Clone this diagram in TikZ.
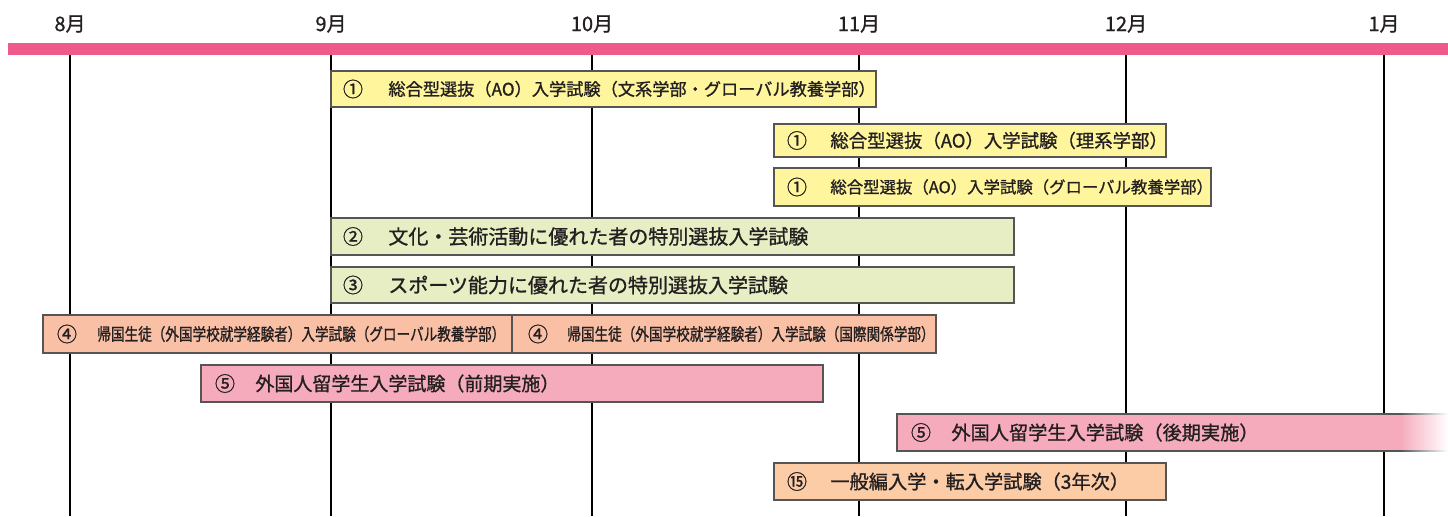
\documentclass[tikz,border=0pt]{standalone}
\usepackage{fontspec}
\setmainfont[FakeBold=1.0]{Noto Sans CJK JP}
\newfontfamily\jpnarrow[FakeBold=1.0, FakeStretch=0.8]{Noto Sans CJK JP}
\usetikzlibrary{positioning}

\definecolor{barpink}{HTML}{EE5A8A}
\definecolor{aoyellow}{HTML}{FFF59D}
\definecolor{tokugreen}{HTML}{E7EEC4}
\definecolor{kikokusalmon}{HTML}{F9C0A6}
\definecolor{ryugakupink}{HTML}{F5ABBC}
\definecolor{hennyupeach}{HTML}{FCCCA6}
\definecolor{edgegray}{HTML}{555555}
\definecolor{inkblack}{HTML}{231F20}

\newcommand\fsz[1]{\fontsize{#1}{#1}\selectfont}

\tikzset{
  exam/.style = {draw=edgegray, line width=0.6pt},
  numlbl/.style = {inner sep=0pt, text=inkblack, font=\fsz{10}},
  examlbl/.style = {inner sep=0pt, anchor=west, text=inkblack},
  monthlbl/.style = {inner sep=0pt, text=inkblack, font=\fsz{10}}
}

\begin{document}
\begin{tikzpicture}[x=0.5pt, y=-0.5pt]
    \useasboundingbox (0,0) rectangle (1448,516);

    % Bar and month lines
    \fill[barpink] (8,43) rectangle (1448,55);
    \foreach \x/\m in {70/8, 331/9, 592/10, 859/11, 1126/12, 1384/1} {
        \node[monthlbl] (m\m) at (\x,24) {\m 月};
        \draw[line width=1pt] (\x,55) -- (\x,516);
    }

    % (1) AO
    \draw[exam, fill=aoyellow] (331,71) rectangle (876,107);
    \node[numlbl] (n1) at (353,89) {①};
    \node[examlbl, font=\fsz{8.6}] (t1) at (388,89) {総合型選抜（AO）入学試験（文系学部・グローバル教養学部）};

    \draw[exam, fill=aoyellow] (774,124) rectangle (1166,157);
    \node[numlbl] (n2) at (797,140.5) {①};
    \node[examlbl, font=\fsz{9.2}] (t2) at (830,140.5) {総合型選抜（AO）入学試験（理系学部）};

    \draw[exam, fill=aoyellow] (774,168) rectangle (1211,206);
    \node[numlbl] (n3) at (797,187) {①};
    \node[examlbl, font=\fsz{8.2}] (t3) at (830,187) {総合型選抜（AO）入学試験（グローバル教養学部）};

    % (2)(3) tokubetsu
    \draw[exam, fill=tokugreen] (331,218) rectangle (1014,255);
    \node[numlbl] (n4) at (353,236.5) {②};
    \node[examlbl, font=\fsz{10}] (t4) at (388,236.5) {文化・芸術活動に優れた者の特別選抜入学試験};

    \draw[exam, fill=tokugreen] (331,267) rectangle (1014,303);
    \node[numlbl] (n5) at (353,285) {③};
    \node[examlbl, font=\fsz{10}] (t5) at (388,285) {スポーツ能力に優れた者の特別選抜入学試験};

    % (4) kikoku
    \draw[exam, fill=kikokusalmon] (43,315) rectangle (512,353);
    \node[numlbl] (n6) at (67,334) {④};
    \node[examlbl, font=\jpnarrow\fsz{8.5}] (t6) at (97,334) {帰国生徒（外国学校就学経験者）入学試験（グローバル教養学部）};

    \draw[exam, fill=kikokusalmon] (512,315) rectangle (936,353);
    \node[numlbl] (n7) at (538,334) {④};
    \node[examlbl, font=\jpnarrow\fsz{8.5}] (t7) at (567,334) {帰国生徒（外国学校就学経験者）入学試験（国際関係学部）};

    % (5) ryugaku
    \draw[exam, fill=ryugakupink] (201,365) rectangle (823,402);
    \node[numlbl] (n8) at (225,383.5) {⑤};
    \node[examlbl, font=\fsz{9.5}] (t8) at (255,383.5) {外国人留学生入学試験（前期実施）};

    \fill[ryugakupink] (897,414) rectangle (1400,451);
    \shade[left color=ryugakupink, right color=white] (1400,414) rectangle (1448,451);
    \draw[edgegray, line width=0.6pt] (1400,414) -- (897,414) -- (897,451) -- (1400,451);
    \shade[left color=edgegray, right color=white] (1400,413.4) rectangle (1448,414.6);
    \shade[left color=edgegray, right color=white] (1400,450.4) rectangle (1448,451.6);
    \node[numlbl] (n9) at (921,432.5) {⑤};
    \node[examlbl, font=\fsz{9.6}] (t9) at (951,432.5) {外国人留学生入学試験（後期実施）};

    % (15) hennyu
    \draw[exam, fill=hennyupeach] (774,463) rectangle (1166,500);
    \node[numlbl] (n10) at (797,481.5) {⑮};
    \node[examlbl, font=\fsz{9.6}] (t10) at (830,481.5) {一般編入学・転入学試験（3年次）};
\end{tikzpicture}
\end{document}
